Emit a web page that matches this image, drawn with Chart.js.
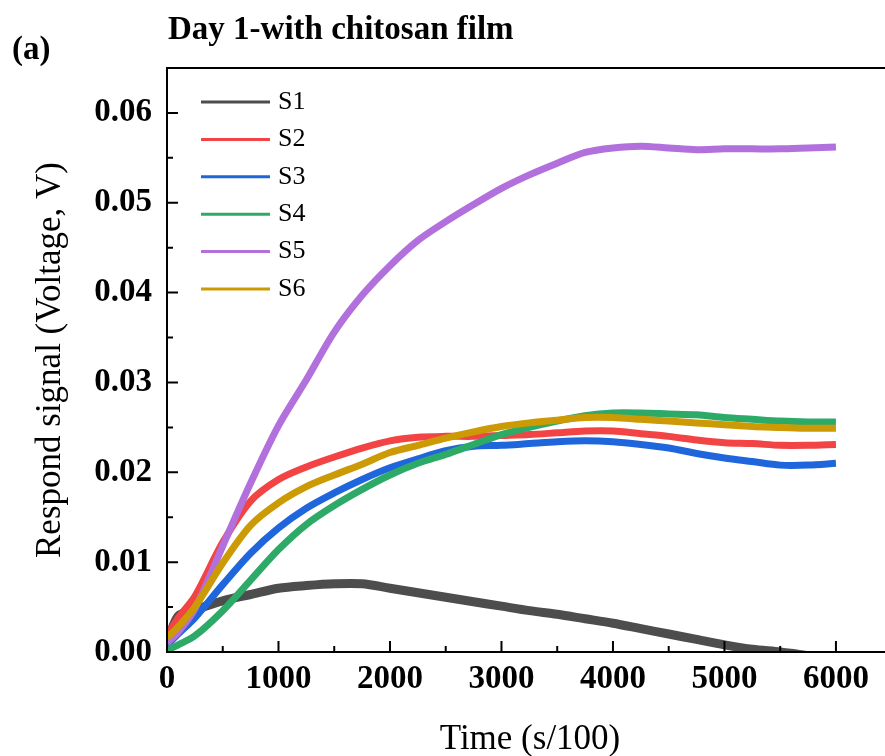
<!DOCTYPE html>
<html>
<head>
<meta charset="utf-8">
<script src="https://cdn.jsdelivr.net/npm/chart.js@4.4.0/dist/chart.umd.min.js"></script>
<style>
  html, body { margin: 0; padding: 0; background: #fff; }
  #wrap { width: 885px; height: 756px; }
</style>
</head>
<body>
<div id="wrap"><canvas id="chart" width="885" height="756"></canvas></div>
<script>
// data (time in s/100, signal in V)
const times = [0, 100, 250, 500, 750, 1000, 1250, 1500, 1750, 2000, 2250, 2500, 2750,
  3000, 3250, 3500, 3750, 4000, 4250, 4500, 4750, 5000, 5250, 5500, 5750, 6000];
const s1 = [0.0010, 0.0040, 0.0047, 0.0057, 0.0064, 0.0071, 0.0074, 0.0076, 0.0076, 0.0071, 0.0066, 0.0061, 0.0056,
  0.0051, 0.0046, 0.0042, 0.0037, 0.0032, 0.0026, 0.0020, 0.0014, 0.0008, 0.0003, 0.0000, -0.0004, -0.0008];
const s2 = [0.0018, 0.0038, 0.0062, 0.0122, 0.0168, 0.0192, 0.0206, 0.0217, 0.0227, 0.0235, 0.0239, 0.0240, 0.0240,
  0.0241, 0.0242, 0.0244, 0.0246, 0.0246, 0.0243, 0.0240, 0.0236, 0.0233, 0.0232, 0.0230, 0.0230, 0.0231];
const s3 = [0.0008, 0.0020, 0.0038, 0.0075, 0.0110, 0.0138, 0.0160, 0.0177, 0.0192, 0.0205, 0.0215, 0.0224, 0.0229,
  0.0230, 0.0232, 0.0234, 0.0235, 0.0234, 0.0231, 0.0227, 0.0221, 0.0216, 0.0212, 0.0208, 0.0208, 0.0210];
const s4 = [0.0002, 0.0008, 0.0018, 0.0046, 0.0080, 0.0114, 0.0142, 0.0163, 0.0181, 0.0197, 0.0210, 0.0220, 0.0231,
  0.0242, 0.0250, 0.0257, 0.0263, 0.0266, 0.0266, 0.0265, 0.0264, 0.0261, 0.0259, 0.0257, 0.0256, 0.0256];
const s5 = [0.0010, 0.0022, 0.0048, 0.0118, 0.0188, 0.0252, 0.0303, 0.0356, 0.0397, 0.0430, 0.0458, 0.0479, 0.0498,
  0.0516, 0.0531, 0.0544, 0.0556, 0.0561, 0.0563, 0.0561, 0.0559, 0.0560, 0.0560, 0.0560, 0.0561, 0.0562];
const s6 = [0.0016, 0.0028, 0.0050, 0.0099, 0.0141, 0.0166, 0.0184, 0.0197, 0.0209, 0.0222, 0.0230, 0.0238, 0.0245,
  0.0251, 0.0255, 0.0258, 0.0261, 0.0261, 0.0259, 0.0257, 0.0255, 0.0253, 0.0251, 0.0250, 0.0249, 0.0249];

const seriesNames = ['S1', 'S2', 'S3', 'S4', 'S5', 'S6'];
const seriesValues = [s1, s2, s3, s4, s5, s6];
const seriesColors = ['#4d4d4d', '#f24444', '#1f66dd', '#2eaa68', '#b270dc', '#cc9a05'];

const xTicks = [0, 1000, 2000, 3000, 4000, 5000, 6000];
const xMinor = [500, 1500, 2500, 3500, 4500, 5500];
const yTicks = [0, 0.01, 0.02, 0.03, 0.04, 0.05, 0.06];
const yMinor = [0.005, 0.015, 0.025, 0.035, 0.045, 0.055];

const serif = "'Liberation Serif', 'Times New Roman', serif";

// frame top, inward ticks, legend, titles
const decor = {
  id: 'decor',
  afterDraw(chart) {
    const { ctx, chartArea: a, scales: { x, y } } = chart;
    ctx.save();
    ctx.strokeStyle = '#000';
    ctx.lineWidth = 2;
    ctx.beginPath();
    ctx.moveTo(a.left, a.top); ctx.lineTo(a.right, a.top);
    ctx.moveTo(a.left, a.top); ctx.lineTo(a.left, a.bottom);
    ctx.moveTo(a.left, a.bottom); ctx.lineTo(a.right, a.bottom);
    ctx.stroke();

    ctx.beginPath();
    xTicks.forEach(v => { const px = x.getPixelForValue(v); ctx.moveTo(px, a.bottom); ctx.lineTo(px, a.bottom - 11); });
    xMinor.forEach(v => { const px = x.getPixelForValue(v); ctx.moveTo(px, a.bottom); ctx.lineTo(px, a.bottom - 6); });
    yTicks.forEach(v => { const py = y.getPixelForValue(v); ctx.moveTo(a.left, py); ctx.lineTo(a.left + 11, py); });
    yMinor.forEach(v => { const py = y.getPixelForValue(v); ctx.moveTo(a.left, py); ctx.lineTo(a.left + 6, py); });
    ctx.stroke();

    // legend
    ctx.font = '26px ' + serif;
    ctx.textBaseline = 'middle';
    ctx.fillStyle = '#000';
    seriesNames.forEach((name, i) => {
      const ly = 102 + i * 37.4;
      ctx.strokeStyle = seriesColors[i];
      ctx.lineWidth = 3;
      ctx.beginPath(); ctx.moveTo(201, ly); ctx.lineTo(270, ly); ctx.stroke();
      ctx.fillText(name, 278, ly);
    });

    // titles
    ctx.textBaseline = 'alphabetic';
    ctx.font = 'bold 33px ' + serif;
    ctx.fillText('Day 1-with chitosan film', 168, 39);
    ctx.fillText('(a)', 12, 59);
    ctx.font = '35px ' + serif;
    ctx.textAlign = 'center';
    ctx.fillText('Time (s/100)', 530, 749);
    ctx.restore();
  }
};

new Chart(document.getElementById('chart'), {
  type: 'line',
  data: {
    datasets: seriesNames.map((name, i) => ({
      label: name,
      data: times.map((t, k) => ({ x: t, y: seriesValues[i][k] })),
      borderColor: seriesColors[i],
      borderWidth: i === 0 ? 9 : 7,
      pointRadius: 0,
      tension: 0.3,
      clip: 0,
      order: seriesNames.length - i
    }))
  },
  options: {
    responsive: false,
    animation: false,
    devicePixelRatio: 1,
    layout: { padding: { top: 68, left: 0, right: 0, bottom: 0 } },
    plugins: { legend: { display: false }, tooltip: { enabled: false } },
    scales: {
      x: {
        type: 'linear',
        min: 0,
        max: 6440,
        afterFit: s => { s.height = 104; },
        afterBuildTicks: s => { s.ticks = xTicks.map(v => ({ value: v })); },
        grid: { display: false, drawTicks: false },
        border: { display: true, color: '#000', width: 2 },
        ticks: {
          color: '#000',
          padding: 8,
          maxRotation: 0,
          callback: v => String(v),
          font: { family: serif, size: 33, weight: 'bold' }
        }
      },
      y: {
        min: 0,
        max: 0.065,
        afterFit: s => { s.width = 167; },
        afterBuildTicks: s => { s.ticks = yTicks.map(v => ({ value: v })); },
        grid: { display: false, drawTicks: false },
        border: { display: true, color: '#000', width: 2 },
        ticks: {
          color: '#000',
          padding: 15,
          callback: v => v.toFixed(2),
          font: { family: serif, size: 33, weight: 'bold' }
        },
        title: {
          display: true,
          text: 'Respond signal (Voltage, V)',
          color: '#000',
          padding: { top: 30, bottom: 0 },
          font: { family: serif, size: 35 }
        }
      }
    }
  },
  plugins: [decor]
});
</script>
</body>
</html>
